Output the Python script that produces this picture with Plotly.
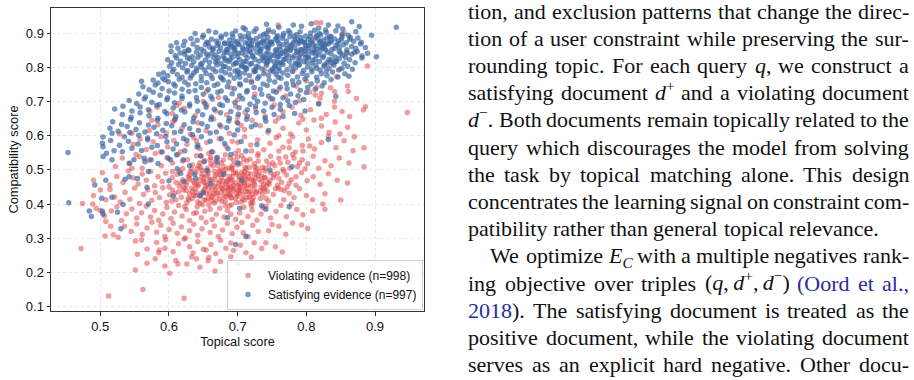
import re
import plotly.graph_objects as go

# ---------------- data ----------------
violating_pts = [
(.759,.924),(.814,.930),(.821,.930),(.889,.804),(.844,.773),(.860,.745),(.841,.729),(.822,.724),(.813,.719),(.859,.841),(.849,.794),(.832,.812),(.800,.760),(.780,.790),(.770,.850),(.830,.870),(.810,.880),(.745,.905),(.855,.900),(.790,.835),(.720,.760),(.740,.790),
(.873,.709),(.841,.701),(.650,.700),(.672,.712),(.700,.705),(.725,.722),(.748,.708),(.770,.716),(.790,.702),(.805,.728),(.820,.710),(.835,.740),(.861,.729),(.655,.730),(.690,.740),(.760,.735),(.785,.745),(.815,.742),
(.947,.668),(.886,.685),(.883,.675),(.863,.656),(.605,.665),(.622,.680),(.638,.658),(.655,.690),(.668,.672),(.684,.661),(.697,.686),(.711,.668),(.726,.679),(.740,.657),(.753,.690),(.766,.670),(.779,.683),(.792,.660),(.806,.676),(.818,.695),(.829,.662),(.841,.684),(.852,.671),(.615,.695),(.700,.655),(.760,.652),(.822,.651),
(.571,.615),(.584,.632),(.596,.608),(.608,.645),(.619,.622),(.631,.604),(.642,.638),(.654,.615),(.665,.648),(.676,.626),(.688,.607),(.699,.640),(.710,.618),(.721,.645),(.733,.629),(.744,.610),(.755,.642),(.766,.622),(.777,.605),(.789,.637),(.800,.617),(.811,.646),(.822,.628),(.833,.609),(.849,.605),(.870,.597),(.842,.640),(.860,.625),(.575,.645),(.705,.630),(.760,.600),(.795,.648),
(.548,.575),(.558,.590),(.567,.560),(.577,.582),(.588,.598),(.598,.567),(.607,.586),(.617,.553),(.626,.574),(.636,.595),(.645,.562),(.655,.580),(.664,.552),(.673,.591),(.683,.569),(.692,.584),(.701,.556),(.710,.597),(.719,.573),(.729,.588),(.738,.559),(.747,.578),(.756,.594),(.766,.566),(.775,.583),(.784,.552),(.794,.571),(.803,.590),(.812,.561),(.822,.580),(.832,.598),(.843,.565),(.855,.585),(.868,.556),(.884,.565),(.760,.555),(.700,.580),(.640,.585),(.588,.552),(.720,.555),(.780,.597),
(.522,.510),(.532,.535),(.543,.520),(.552,.545),(.561,.505),(.571,.528),(.580,.548),(.589,.512),(.597,.536),(.605,.520),(.613,.545),(.620,.503),(.627,.530),(.634,.515),(.640,.541),(.646,.507),(.652,.527),(.658,.548),(.664,.512),(.670,.535),(.676,.520),(.682,.544),(.688,.506),(.694,.529),(.700,.515),(.706,.542),(.712,.503),(.718,.531),(.724,.518),(.730,.547),(.736,.508),(.742,.526),(.748,.540),(.754,.512),(.760,.534),(.766,.502),(.773,.522),(.780,.545),(.787,.510),(.794,.530),(.802,.518),(.810,.540),(.818,.505),(.827,.527),(.836,.512),(.848,.535),(.862,.520),(.884,.509),(.660,.530),(.700,.538),(.740,.505),(.680,.510),(.620,.525),(.770,.538),
(.490,.470),(.503,.492),(.514,.456),(.524,.481),(.533,.463),(.541,.497),(.548,.476),(.555,.459),(.561,.488),(.567,.470),(.573,.495),(.579,.454),(.584,.480),(.590,.466),(.595,.490),(.600,.451),(.605,.478),(.610,.463),(.615,.496),(.620,.471),(.625,.455),(.630,.486),(.634,.468),(.639,.492),(.643,.458),(.648,.479),(.652,.464),(.657,.497),(.661,.473),(.666,.452),(.670,.487),(.674,.466),(.679,.495),(.683,.459),(.688,.481),(.692,.470),(.697,.493),(.701,.455),(.706,.476),(.710,.462),(.715,.490),(.720,.471),(.725,.456),(.730,.484),(.735,.466),(.740,.497),(.746,.459),(.752,.478),(.758,.490),(.764,.463),(.771,.485),(.778,.471),(.785,.455),(.793,.492),(.801,.468),(.810,.480),(.820,.458),(.832,.489),(.845,.470),(.860,.462),(.650,.465),(.690,.450),(.630,.475),(.710,.495),(.760,.475),(.676,.478),(.605,.495),(.740,.478),(.546,.505),
(.474,.402),(.489,.400),(.490,.425),(.500,.441),(.508,.413),(.514,.443),(.521,.421),(.529,.406),(.536,.435),(.543,.414),(.550,.447),(.557,.402),(.563,.428),(.569,.441),(.575,.411),(.580,.434),(.586,.419),(.591,.448),(.596,.405),(.601,.427),(.605,.441),(.610,.413),(.614,.436),(.618,.420),(.622,.449),(.626,.404),(.630,.430),(.634,.416),(.638,.444),(.642,.407),(.646,.425),(.650,.438),(.654,.411),(.658,.448),(.662,.420),(.666,.403),(.670,.433),(.674,.415),(.678,.444),(.682,.408),(.686,.428),(.690,.418),(.694,.441),(.698,.405),(.702,.430),(.707,.414),(.712,.447),(.717,.421),(.722,.404),(.727,.436),(.733,.416),(.739,.442),(.745,.409),(.752,.428),(.759,.447),(.767,.413),(.775,.432),(.782,.419),(.790,.445),(.800,.425),(.809,.413),(.824,.400),(.827,.430),(.850,.412),(.768,.440),(.655,.430),(.685,.447),(.705,.440),(.640,.435),(.625,.440),(.690,.430),(.718,.436),(.778,.400),
(.494,.388),(.500,.381),(.506,.365),(.516,.380),(.524,.392),(.531,.352),(.538,.372),(.546,.386),(.553,.359),(.560,.375),(.567,.394),(.573,.362),(.579,.381),(.585,.353),(.591,.371),(.597,.390),(.603,.358),(.608,.377),(.614,.396),(.619,.365),(.625,.384),(.630,.352),(.636,.373),(.641,.392),(.647,.360),(.652,.379),(.658,.397),(.663,.355),(.669,.370),(.674,.388),(.680,.362),(.685,.381),(.691,.398),(.697,.356),(.703,.374),(.709,.391),(.715,.364),(.721,.383),(.728,.353),(.734,.371),(.741,.394),(.748,.359),(.756,.378),(.763,.396),(.771,.363),(.786,.384),(.795,.369),(.809,.380),(.827,.385),(.660,.385),(.690,.370),(.720,.395),(.640,.375),
(.508,.349),(.507,.307),(.515,.335),(.526,.303),(.535,.335),(.545,.320),(.553,.342),(.561,.311),(.568,.330),(.575,.347),(.582,.318),(.588,.338),(.594,.305),(.600,.326),(.606,.344),(.612,.315),(.618,.333),(.624,.301),(.630,.322),(.636,.341),(.642,.309),(.648,.328),(.654,.347),(.660,.317),(.666,.336),(.672,.305),(.678,.324),(.685,.343),(.692,.313),(.699,.332),(.706,.346),(.708,.316),(.715,.305),(.722,.338),(.730,.320),(.745,.322),(.750,.340),(.760,.335),(.770,.312),(.793,.339),(.802,.329),(.780,.345),(.519,.310),
(.551,.292),(.560,.295),(.554,.253),(.568,.269),(.582,.288),(.586,.266),(.595,.296),(.594,.271),(.606,.261),(.614,.284),(.622,.298),(.630,.275),(.635,.257),(.642,.290),(.650,.268),(.654,.266),(.661,.282),(.668,.255),(.675,.294),(.683,.271),(.690,.286),(.694,.264),(.704,.280),(.712,.258),(.724,.287),(.741,.287),(.735,.270),(.755,.275),(.765,.260),(.585,.258),(.472,.270),
(.551,.207),(.568,.227),(.594,.219),(.613,.225),(.626,.225),(.633,.245),(.657,.234),(.658,.244),(.690,.246),(.601,.198),(.667,.204),(.610,.235),(.640,.240),(.580,.240),(.675,.232),(.720,.245),(.700,.228),(.645,.215),
(.512,.131),(.562,.150),(.622,.125),
(.623,.392),(.628,.418),(.633,.447),(.637,.462),(.641,.503),(.645,.521),(.649,.398),(.653,.452),(.657,.488),(.661,.536),(.665,.431),(.668,.410),(.672,.461),(.675,.500),(.679,.529),(.682,.395),(.686,.442),(.689,.470),(.693,.515),(.696,.548),(.700,.423),(.704,.459),(.708,.485),(.711,.508),(.715,.436),(.719,.403),(.723,.468),(.726,.497),(.730,.525),(.734,.450),(.737,.389),(.741,.416),(.744,.463),(.748,.492),(.751,.521),(.755,.445),(.631,.495),(.644,.470),(.656,.505),(.667,.483),(.678,.455),(.691,.502),(.702,.471),(.713,.526),(.724,.444),(.735,.482),(.746,.515),(.639,.425),(.651,.413),(.663,.445),(.676,.434),(.688,.395),(.699,.488),(.710,.452),(.721,.411),(.732,.496),(.743,.437),(.626,.465),(.647,.540),(.668,.525),(.689,.535),(.709,.531),(.729,.541),(.683,.422),(.694,.455),(.705,.406),(.716,.476),(.727,.432),(.738,.458),(.659,.471),(.670,.451),(.681,.487),(.692,.480),(.703,.443),(.714,.419),(.725,.509),(.736,.429),(.747,.470),(.758,.455),(.617,.462),(.608,.432),(.612,.487),(.604,.409),(.767,.496),(.772,.450),(.762,.520),(.776,.505),(.782,.535),(.790,.520),(.798,.503),(.785,.480),(.795,.555),(.805,.570),(.775,.565),
(.572,.672),(.583,.683),(.606,.641),(.611,.688),(.546,.607),(.557,.539),(.528,.605),
(.652,.443),(.667,.472),(.681,.438),(.696,.462),(.711,.481),(.658,.418),(.673,.497),(.688,.427),(.703,.451),(.719,.488),(.634,.437),(.648,.489),(.663,.461),(.677,.408),(.692,.506),(.708,.427),(.724,.462),(.639,.458),(.655,.483),(.671,.426),(.686,.472),(.701,.438),(.716,.456),(.731,.472),(.645,.402),(.661,.517),(.676,.447),(.691,.419),(.706,.493),(.721,.429),(.737,.445),(.628,.481),(.643,.512),(.659,.433),(.674,.486),(.689,.443),(.704,.519),(.719,.452),(.642,.452),(.666,.496),(.684,.466),(.698,.431),(.713,.472),(.728,.505),(.621,.441),(.636,.426),(.651,.476),(.668,.439),(.683,.501),(.697,.417),(.712,.437),(.727,.487),(.742,.452),(.633,.501),(.647,.431),(.662,.409),(.679,.468),(.694,.491),(.709,.464),(.723,.419),(.739,.476),(.656,.456),(.671,.513),(.687,.456),(.702,.481),(.717,.508),(.733,.438),(.648,.499),(.664,.424),(.680,.423),(.695,.445),(.710,.412),(.725,.478),(.615,.452),(.629,.413),(.753,.486),(.763,.443),(.775,.461),
]

satisfying_pts = [
(.742,.926),(.781,.924),(.807,.927),(.866,.933),(.877,.919),(.931,.917),(.708,.916),(.711,.911),(.832,.924),(.846,.921),(.793,.920),(.760,.917),(.727,.913),(.818,.915),(.853,.912),
(.650,.894),(.668,.902),(.683,.897),(.697,.906),(.704,.893),(.716,.899),(.724,.905),(.733,.891),(.741,.898),(.752,.903),(.758,.892),(.767,.899),(.774,.907),(.786,.896),(.791,.904),(.799,.891),(.806,.900),(.812,.908),(.821,.895),(.829,.902),(.836,.890),(.843,.907),(.852,.897),(.861,.894),(.872,.904),(.895,.894),(.638,.899),(.676,.891),(.745,.909),(.782,.891),(.815,.893),(.828,.909),(.658,.906),
(.623,.876),(.632,.884),(.641,.879),(.649,.888),(.655,.873),(.662,.882),(.669,.877),(.676,.886),(.681,.871),(.688,.880),(.693,.889),(.699,.875),(.705,.883),(.711,.872),(.716,.887),(.722,.878),(.727,.884),(.733,.871),(.738,.880),(.744,.888),(.749,.874),(.755,.882),(.760,.870),(.765,.885),(.771,.877),(.776,.889),(.781,.872),(.787,.881),(.792,.887),(.797,.874),(.803,.882),(.808,.876),(.814,.888),(.819,.871),(.825,.880),(.830,.886),(.836,.874),(.841,.883),(.847,.877),(.852,.889),(.858,.872),(.863,.881),(.869,.876),(.875,.886),(.880,.873),(.611,.872),(.700,.869),(.742,.876),(.790,.873),(.834,.889),(.757,.888),(.718,.881),(.672,.870),(.806,.889),
(.613,.856),(.621,.864),(.628,.851),(.635,.868),(.641,.858),(.647,.853),(.653,.866),(.659,.859),(.664,.851),(.670,.864),(.675,.857),(.681,.869),(.686,.852),(.691,.861),(.696,.855),(.702,.867),(.707,.858),(.713,.851),(.718,.863),(.723,.856),(.729,.869),(.734,.853),(.739,.862),(.745,.857),(.750,.868),(.756,.852),(.761,.860),(.766,.866),(.772,.854),(.777,.862),(.783,.857),(.788,.869),(.793,.851),(.799,.863),(.804,.858),(.810,.866),(.815,.853),(.821,.861),(.826,.856),(.832,.868),(.837,.852),(.843,.864),(.848,.857),(.854,.866),(.859,.851),(.866,.861),(.872,.855),(.879,.868),(.886,.858),(.657,.870),(.715,.870),(.762,.851),(.798,.855),(.827,.867),(.745,.865),(.690,.868),(.603,.862),
(.603,.846),(.609,.834),(.616,.842),(.623,.838),(.629,.849),(.634,.831),(.640,.844),(.646,.837),(.651,.848),(.657,.833),(.662,.841),(.668,.836),(.673,.847),(.679,.832),(.684,.843),(.690,.838),(.695,.849),(.700,.831),(.706,.842),(.711,.836),(.717,.847),(.722,.833),(.728,.844),(.733,.839),(.738,.830),(.744,.845),(.749,.836),(.755,.848),(.760,.832),(.765,.841),(.771,.837),(.776,.849),(.782,.834),(.787,.843),(.792,.838),(.798,.847),(.803,.831),(.809,.842),(.814,.836),(.820,.848),(.825,.833),(.831,.844),(.836,.839),(.842,.830),(.848,.846),(.853,.835),(.859,.843),(.866,.838),(.874,.846),(.881,.833),(.902,.831),(.623,.846),(.697,.840),(.757,.840),(.812,.845),(.850,.841),(.889,.841),
(.598,.822),(.604,.813),(.611,.827),(.617,.818),(.624,.811),(.630,.824),(.636,.816),(.642,.829),(.648,.812),(.653,.821),(.659,.815),(.665,.828),(.670,.819),(.676,.811),(.681,.825),(.687,.817),(.692,.829),(.698,.813),(.703,.822),(.709,.816),(.714,.828),(.720,.811),(.725,.823),(.731,.818),(.736,.827),(.742,.812),(.747,.821),(.753,.816),(.758,.829),(.764,.813),(.769,.824),(.775,.818),(.780,.827),(.786,.811),(.791,.822),(.797,.816),(.802,.828),(.808,.812),(.813,.823),(.819,.817),(.824,.829),(.830,.814),(.836,.821),(.842,.816),(.848,.826),(.855,.812),(.863,.822),(.881,.827),(.871,.813),(.742,.826),(.683,.820),(.627,.828),
(.601,.803),(.607,.794),(.614,.808),(.620,.799),(.627,.791),(.633,.805),(.640,.797),(.646,.809),(.652,.792),(.658,.801),(.664,.795),(.670,.807),(.676,.790),(.682,.802),(.688,.796),(.694,.808),(.700,.791),(.706,.803),(.712,.797),(.718,.809),(.724,.792),(.730,.801),(.736,.795),(.742,.806),(.748,.790),(.754,.802),(.760,.797),(.766,.808),(.772,.793),(.778,.804),(.784,.798),(.790,.809),(.796,.791),(.802,.801),(.808,.795),(.814,.807),(.820,.792),(.826,.803),(.833,.797),(.840,.806),(.847,.792),(.852,.797),(.860,.803),(.867,.794),(.710,.800),(.760,.790),(.647,.800),
(.592,.784),(.598,.775),(.605,.788),(.612,.779),(.619,.771),(.626,.786),(.633,.776),(.640,.789),(.647,.773),(.654,.782),(.661,.777),(.668,.788),(.675,.772),(.682,.784),(.689,.778),(.696,.789),(.703,.771),(.710,.783),(.717,.776),(.724,.787),(.731,.773),(.738,.781),(.745,.776),(.752,.788),(.759,.771),(.766,.783),(.773,.777),(.780,.788),(.787,.772),(.794,.782),(.801,.776),(.808,.787),(.815,.771),(.822,.781),(.830,.776),(.838,.786),(.846,.772),(.856,.781),(.862,.774),(.585,.780),(.700,.780),(.756,.780),(.636,.783),
(.577,.763),(.584,.754),(.591,.768),(.599,.758),(.607,.751),(.615,.765),(.623,.757),(.631,.769),(.639,.752),(.647,.761),(.655,.755),(.663,.767),(.671,.751),(.679,.763),(.687,.757),(.695,.768),(.703,.752),(.712,.762),(.720,.756),(.729,.767),(.737,.751),(.746,.762),(.754,.757),(.763,.768),(.771,.752),(.780,.761),(.789,.756),(.798,.766),(.807,.751),(.816,.760),(.826,.755),(.836,.764),(.560,.759),(.594,.763),(.677,.768),
(.562,.743),(.571,.734),(.580,.748),(.590,.738),(.600,.731),(.609,.745),(.619,.736),(.628,.749),(.638,.732),(.647,.741),(.657,.735),(.666,.747),(.676,.731),(.685,.743),(.695,.737),(.704,.748),(.714,.732),(.724,.741),(.733,.736),(.743,.747),(.752,.731),(.762,.742),(.772,.737),(.781,.748),(.791,.733),(.802,.741),(.813,.736),(.823,.745),
(.556,.722),(.566,.713),(.577,.727),(.587,.718),(.598,.711),(.608,.725),(.619,.716),(.629,.729),(.640,.712),(.650,.721),(.661,.715),(.671,.727),(.682,.711),(.692,.723),(.703,.717),(.713,.728),(.724,.712),(.735,.721),(.745,.716),(.756,.727),(.766,.711),(.777,.722),(.788,.717),(.800,.726),(.843,.715),
(.542,.703),(.553,.694),(.564,.707),(.575,.698),(.586,.691),(.597,.705),(.608,.696),(.619,.709),(.630,.692),(.641,.701),(.652,.695),(.663,.707),(.674,.691),(.685,.703),(.696,.697),(.707,.708),(.718,.692),(.729,.701),(.740,.695),(.751,.707),(.762,.691),(.773,.702),(.784,.697),(.796,.706),(.818,.693),
(.521,.678),(.533,.686),(.546,.672),(.558,.684),(.570,.676),(.582,.689),(.594,.671),(.606,.681),(.618,.675),(.630,.687),(.642,.672),(.654,.683),(.666,.677),(.678,.688),(.690,.671),(.702,.682),(.714,.676),(.726,.687),(.738,.672),(.750,.683),(.762,.677),(.775,.688),(.798,.672),
(.532,.662),(.545,.654),(.558,.667),(.571,.658),(.584,.651),(.597,.664),(.610,.656),(.623,.669),(.636,.652),(.649,.661),(.662,.655),(.675,.667),(.688,.651),(.701,.663),(.714,.657),(.727,.668),(.740,.652),(.753,.662),(.766,.656),(.783,.665),
(.518,.641),(.531,.633),(.544,.647),(.557,.638),(.570,.631),(.583,.645),(.596,.636),(.609,.649),(.622,.632),(.635,.641),(.648,.635),(.661,.647),(.674,.631),(.687,.643),(.700,.637),(.713,.648),(.726,.632),(.741,.642),
(.514,.622),(.526,.613),(.539,.627),(.552,.618),(.565,.611),(.578,.625),(.591,.616),(.604,.629),(.617,.612),(.630,.621),(.643,.615),(.656,.627),(.669,.611),(.684,.623),(.700,.617),(.720,.626),(.745,.615),
(.504,.596),(.517,.607),(.535,.597),(.543,.609),(.556,.601),(.569,.593),(.582,.606),(.595,.598),(.608,.609),(.621,.592),(.634,.603),(.647,.597),(.660,.608),(.676,.591),(.695,.602),(.832,.589),
(.503,.578),(.515,.586),(.528,.572),(.541,.584),(.555,.576),(.569,.588),(.583,.571),(.597,.582),(.611,.576),(.626,.587),(.642,.573),(.660,.584),(.681,.577),(.705,.583),(.728,.574),
(.453,.551),(.504,.568),(.509,.549),(.520,.556),(.532,.553),(.546,.563),(.560,.557),(.575,.566),(.590,.552),(.606,.561),(.623,.556),(.641,.567),(.662,.553),(.686,.562),(.712,.555),
(.504,.539),(.517,.530),(.549,.530),(.564,.534),(.565,.524),(.574,.530),(.599,.534),(.602,.530),(.611,.544),(.621,.530),(.646,.541),(.670,.536),(.690,.545),
(.651,.524),(.670,.524),(.584,.519),(.542,.519),(.630,.512),(.700,.521),(.747,.500),(.779,.509),(.617,.490),(.637,.487),(.570,.495),(.679,.487),(.612,.503),(.655,.498),
(.492,.456),(.508,.470),(.536,.473),(.542,.480),(.554,.475),(.568,.449),(.622,.466),(.639,.475),(.600,.468),(.660,.460),(.706,.470),
(.454,.404),(.502,.417),(.517,.420),(.533,.399),(.570,.400),(.606,.424),(.645,.424),(.650,.433),(.703,.388),(.735,.395),(.741,.385),(.775,.392),
(.484,.380),(.487,.364),(.503,.379),(.504,.371),(.525,.376),(.530,.328),(.685,.360),(.697,.282),(.712,.305),
(.701,.842),(.716,.861),(.733,.848),(.748,.873),(.762,.839),(.779,.866),(.791,.851),(.806,.872),(.823,.858),(.689,.823),(.705,.807),(.722,.831),(.738,.819),(.755,.804),(.769,.846),(.784,.812),(.799,.829),(.815,.797),(.828,.851),(.844,.818),(.694,.859),(.711,.889),(.727,.802),(.743,.857),(.758,.878),(.774,.833),(.789,.806),(.803,.864),(.818,.836),(.835,.876),(.681,.845),(.697,.812),(.713,.795),(.729,.865),(.746,.828),(.761,.812),(.777,.851),(.793,.877),(.809,.821),(.826,.807),(.841,.855),(.857,.829),(.672,.828),(.687,.867),(.703,.784),(.719,.843),(.736,.874),(.751,.795),(.767,.823),(.783,.880),(.798,.838),(.813,.862),(.829,.789),(.846,.869),(.664,.856),(.679,.801),(.695,.876),(.712,.817),(.731,.856),(.753,.834),(.772,.866),(.788,.826),(.804,.846),(.821,.875),(.838,.812),(.655,.838),(.668,.815),(.708,.852),(.726,.789),(.741,.839),(.766,.892),(.786,.847),(.801,.815),(.817,.883),(.833,.823),(.851,.881),(.692,.898),(.738,.896),(.776,.901),(.819,.899),(.864,.887),(.870,.843),(.758,.815),(.720,.867),(.744,.816),(.797,.872),(.811,.851),(.684,.852),(.826,.866),
]

series_names = ["Violating evidence (n=998)", "Satisfying evidence (n=997)"]
x_tick_vals = [0.5, 0.6, 0.7, 0.8, 0.9]
y_tick_vals = [0.1, 0.2, 0.3, 0.4, 0.5, 0.6, 0.7, 0.8, 0.9]
x_title = "Topical score"
y_title = "Compatibility score"

# body text of the page next to the chart (one entry per printed line)
CITE = "#2a2aa3"
text_lines = [
    ("tion, and exclusion patterns that change the direc-", True, 0),
    ("tion of a user constraint while preserving the sur-", True, 0),
    ("rounding topic. For each query <i>q</i>, we construct a", True, 0),
    ("satisfying document <i>d</i><sup>+</sup> and a violating document", True, 0),
    ("<i>d</i><sup>\u2212</sup>. Both documents remain topically related to the", True, 0),
    ("query which discourages the model from solving", True, 0),
    ("the task by topical matching alone. This design", True, 0),
    ("concentrates the learning signal on constraint com-", True, 0),
    ("patibility rather than general topical relevance.", False, 0),
    ("We optimize <i>E</i><sub><i>C</i></sub> with a multiple negatives rank-", True, 1),
    ("ing objective over triples (<i>q</i>,\u2009<i>d</i><sup>+</sup>,\u2009<i>d</i><sup>\u2212</sup>) {C}(Oord{/C} {C}et{/C} {C}al.,{/C}", True, 0),
    ("{C}2018{/C}). The satisfying document is treated as the", True, 0),
    ("positive document, while the violating document", True, 0),
    ("serves as an explicit hard negative. Other docu-", True, 0),
]

# ---------------- layout geometry ----------------
W, H = 914, 380
ML, MR, MT, MB = 51, 490, 8, 69
PW = W - ML - MR
PH = H - MT - MB

def px_to_paper_x(px):
    return (px - ML) / PW

def px_to_paper_y(py):
    return (H - MB - py) / PH

SANS = "Liberation Sans, Arial, Helvetica, sans-serif"
SERIF = "Liberation Serif, Times New Roman, Times, serif"

fig = go.Figure()
fig.add_trace(go.Scatter(
    x=[p[0] for p in violating_pts], y=[p[1] for p in violating_pts],
    mode="markers", name=series_names[0],
    marker=dict(size=5.5, color="rgb(222,62,64)", opacity=0.5, line=dict(width=0)),
))
fig.add_trace(go.Scatter(
    x=[p[0] for p in satisfying_pts], y=[p[1] for p in satisfying_pts],
    mode="markers", name=series_names[1],
    marker=dict(size=5.5, color="rgb(58,102,162)", opacity=0.68, line=dict(width=0)),
))

axis_common = dict(
    showgrid=True, gridcolor="#e6e6e6", griddash="3px,3px", gridwidth=0.8,
    showline=True, mirror=True, linecolor="#333333", linewidth=1,
    ticks="outside", ticklen=3.5, tickcolor="#333333", tickwidth=1,
    zeroline=False, automargin=False,
    tickfont=dict(family=SANS, size=13, color="#111"),
)
fig.update_xaxes(
    range=[0.4282, 0.9713], tickvals=x_tick_vals,
    ticktext=[f"{v:.1f}" for v in x_tick_vals],
    title=dict(text=x_title, font=dict(family=SANS, size=12.8, color="#111"), standoff=3),
    **axis_common,
)
fig.update_yaxes(
    range=[0.0874, 0.9734], tickvals=y_tick_vals,
    ticktext=[f"{v:.1f}" for v in y_tick_vals],
    title=dict(text=y_title, font=dict(family=SANS, size=12.8, color="#111"), standoff=4),
    **axis_common,
)

fig.update_layout(
    width=W, height=H,
    margin=dict(l=ML, r=MR, t=MT, b=MB, autoexpand=False),
    plot_bgcolor="white", paper_bgcolor="white",
    showlegend=True,
    legend=dict(
        x=px_to_paper_x(423), y=px_to_paper_y(310), xanchor="right", yanchor="bottom",
        bgcolor="rgba(255,255,255,0.85)", bordercolor="#d0d0d0", borderwidth=1,
        font=dict(family=SANS, size=12, color="#111"),
    ),
)

# ---------------- justified body text ----------------
FS = 22
tw = {}
for ch, w in zip("abcdefghijklmnopqrstuvwxyz",
                 [444,500,444,500,444,333,500,500,278,278,500,278,778,500,500,500,500,333,389,278,500,500,722,500,500,444]):
    tw[ch] = w
tw.update({"B":667, "C":667, "E":611, "F":556, "O":722, "T":611, "W":944,
           " ":250, ",":250, ".":250, "-":333, "(":333, ")":333,
           "+":564, "\u2212":564, "\u2009":170})
for d in "0123456789":
    tw[d] = 500

def text_width(html):
    s = html.replace("{C}", "").replace("{/C}", "")
    total, scale = 0.0, 1.0
    for tok in re.split(r"(<[^>]+>)", s):
        if tok.startswith("<"):
            if tok in ("<sup>", "<sub>"):
                scale = 0.7
            elif tok in ("</sup>", "</sub>"):
                scale = 1.0
            continue
        for ch in tok:
            total += tw.get(ch, 500) * scale
    return total * FS / 1000.0

LEFT, RIGHT = 468.3, 909.0
for i, (line, justify, indent) in enumerate(text_lines):
    baseline = 18.3 + 27.2 * i
    words = line.split(" ")
    widths = [text_width(w) for w in words]
    left = LEFT + indent * FS
    if justify and len(words) > 1:
        gap = (RIGHT - left - sum(widths)) / (len(words) - 1)
    else:
        gap = 0.25 * FS
    xpos = left
    for j, (w, wd) in enumerate(zip(words, widths)):
        html = w.replace("{C}", f'<span style="color:{CITE}">').replace("{/C}", "</span>")
        if justify and j == len(words) - 1:
            xa, xp = "right", RIGHT
        else:
            xa, xp = "left", xpos
        if "<sup>" in w:
            ya, yp = "bottom", baseline + 0.216 * FS
        else:
            ya, yp = "top", baseline - 0.891 * FS
        fig.add_annotation(
            x=px_to_paper_x(xp), y=px_to_paper_y(yp), xref="paper", yref="paper",
            xanchor=xa, yanchor=ya, text=html, showarrow=False,
            borderpad=0, borderwidth=0,
            font=dict(family=SERIF, size=FS, color="#111"),
        )
        xpos += wd + gap

fig.write_html("out.html")
